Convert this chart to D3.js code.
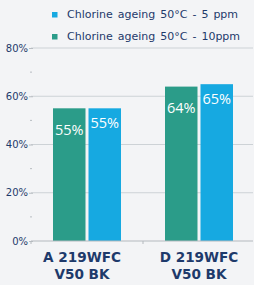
<!DOCTYPE html>
<html>
<head>
<meta charset="utf-8">
<script src="https://cdn.jsdelivr.net/npm/d3@7"></script>
<style>
  html, body { margin: 0; padding: 0; background: #f3f4f6; }
  svg { display: block; font-family: "DejaVu Sans", Verdana, sans-serif; }
</style>
</head>
<body>
<div id="chart"></div>
<script>
const categories = [["A 219WFC", "V50 BK"], ["D 219WFC", "V50 BK"]];
const seriesNames = ["Chlorine ageing 50°C - 10ppm", "Chlorine ageing 50°C - 5 ppm"];
const values10ppm = [55, 64];
const values5ppm = [55, 65];
const yTicks = [0, 20, 40, 60, 80];
const yMinor = [10, 30, 50, 70];
const legendOrder = ["Chlorine ageing 50°C - 5 ppm", "Chlorine ageing 50°C - 10ppm"];

const width = 254, height = 285;
const navy = "#1e3a6b";
const color = d3.scaleOrdinal().domain(seriesNames).range(["#2b9c89", "#16a9e1"]);

const svg = d3.select("#chart").append("svg")
  .attr("width", width)
  .attr("height", height);

const y = d3.scaleLinear().domain([0, 80]).range([241, 48]);
const catKeys = categories.map(d => d.join(" "));
const x0 = d3.scaleBand().domain(catKeys).range([31, 255]);
const x1 = d3.scaleBand().domain(seriesNames).range([22, 90]).paddingInner(0.085);

// gridlines
svg.append("g")
  .selectAll("line")
  .data(yTicks.filter(d => d > 0))
  .join("line")
  .attr("x1", 31).attr("x2", 253)
  .attr("y1", d => y(d)).attr("y2", d => y(d))
  .attr("stroke", "#cdd2d6")
  .attr("stroke-width", 1);

// y axis
svg.append("g")
  .attr("transform", "translate(33,0)")
  .call(d3.axisLeft(y).tickValues(yTicks).tickFormat(d => d + "%").tickSize(4).tickPadding(1))
  .call(g => g.select(".domain").remove())
  .call(g => g.selectAll(".tick line").attr("stroke", "#b8bdc2"))
  .call(g => g.selectAll(".tick text").attr("fill", navy).attr("font-size", 10)
    .attr("font-family", "DejaVu Sans, Verdana, sans-serif"));

svg.append("g")
  .selectAll("line")
  .data(yMinor)
  .join("line")
  .attr("x1", 30).attr("x2", 32)
  .attr("y1", d => y(d)).attr("y2", d => y(d))
  .attr("stroke", "#b8bdc2");

// bars
const rows = catKeys.map((c, i) => ({ cat: c, vals: [
  { s: seriesNames[0], v: values10ppm[i], off: 26.5 },
  { s: seriesNames[1], v: values5ppm[i], off: 20 }
]}));

const groups = svg.append("g")
  .selectAll("g")
  .data(rows)
  .join("g")
  .attr("transform", d => `translate(${x0(d.cat)},0)`);

groups.selectAll("rect")
  .data(d => d.vals)
  .join("rect")
  .attr("x", d => x1(d.s))
  .attr("width", x1.bandwidth())
  .attr("y", d => y(d.v))
  .attr("height", d => y(0) - y(d.v))
  .attr("fill", d => color(d.s));

groups.selectAll("text")
  .data(d => d.vals)
  .join("text")
  .attr("x", d => x1(d.s) + x1.bandwidth() / 2)
  .attr("y", d => y(d.v) + d.off)
  .attr("text-anchor", "middle")
  .attr("fill", "#ffffff")
  .attr("font-family", "Open Sans, sans-serif")
  .attr("font-size", 14.5)
  .text(d => d.v + "%");

// x axis baseline
svg.append("line")
  .attr("x1", 31).attr("x2", 253)
  .attr("y1", y(0)).attr("y2", y(0))
  .attr("stroke", "#b4b9be");

svg.append("g")
  .selectAll("line")
  .data([x0.range()[0], x0(catKeys[1])])
  .join("line")
  .attr("x1", d => d).attr("x2", d => d)
  .attr("y1", y(0)).attr("y2", y(0) + 3)
  .attr("stroke", "#b4b9be");

// category labels (first one sits a little left of its bars)
const catLabels = svg.append("g")
  .selectAll("text")
  .data(categories)
  .join("text")
  .attr("text-anchor", "middle")
  .attr("fill", navy)
  .attr("font-weight", "bold")
  .attr("font-size", 13.6);

catLabels.selectAll("tspan")
  .data((d, i) => d.map(t => ({ t, c: catKeys[i], i })))
  .join("tspan")
  .attr("x", d => x0(d.c) + x0.bandwidth() / 2 - (d.i === 0 ? 5 : 0))
  .attr("y", (d, j) => 261.7 + j * 17.6)
  .text(d => d.t);

// legend
const legend = svg.append("g")
  .selectAll("g")
  .data(legendOrder)
  .join("g")
  .attr("transform", (d, i) => `translate(52,${14.5 + i * 22})`);

legend.append("rect")
  .attr("x", 0).attr("y", -2.5)
  .attr("width", 5.5).attr("height", 5.5)
  .attr("fill", d => color(d));

legend.append("text")
  .attr("x", 15)
  .attr("y", 3.5)
  .attr("fill", navy)
  .attr("font-size", 11)
  .attr("word-spacing", 1.5)
  .text(d => d);
</script>
</body>
</html>
